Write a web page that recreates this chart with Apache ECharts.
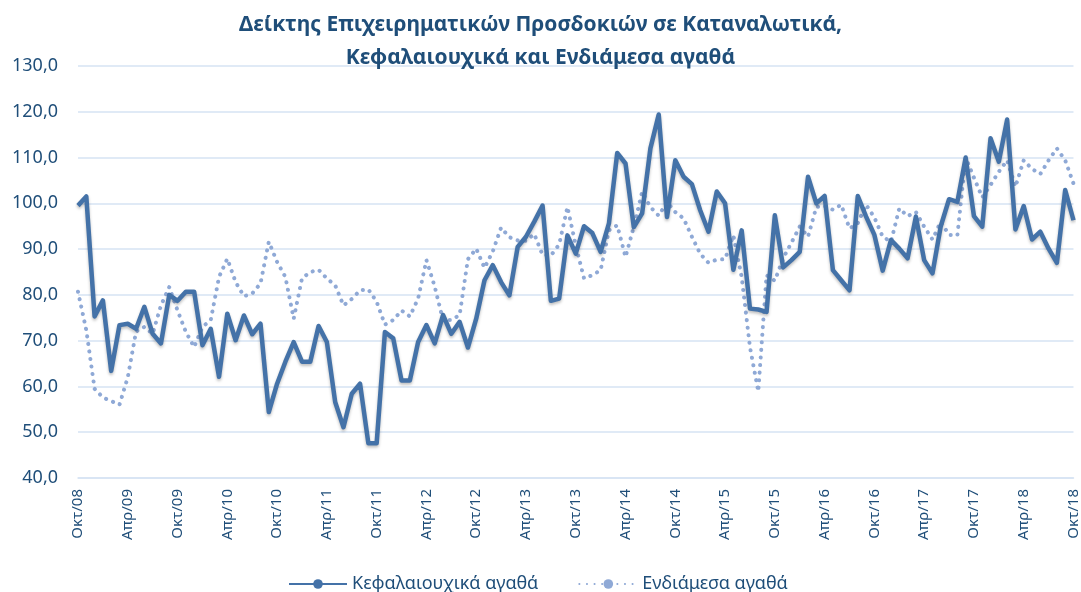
<!DOCTYPE html>
<html>
<head>
<meta charset="utf-8">
<script src="https://cdn.jsdelivr.net/npm/echarts@6/dist/echarts.min.js"></script>
<style>
html,body{margin:0;padding:0;background:#fff;}
#chart{width:1081px;height:592px;}
</style>
</head>
<body>
<div id="chart"></div>
<script>
// Month abbreviations and years used to build the monthly categories (Oct 2008 - Oct 2018)
const monthNames = ['Ιαν','Φεβ','Μαρ','Απρ','Μαϊ','Ιουν','Ιουλ','Αυγ','Σεπ','Οκτ','Νοε','Δεκ'];
const startYear = 2008, startMonth = 9, monthCount = 121;

// Κεφαλαιουχικά αγαθά (capital goods)
const capitalGoods = [
  99.5,101.5,75.3,78.8,63.4,73.4,73.7,72.6,77.4,71.5,69.4,80.0,
  78.7,80.7,80.7,69.0,72.6,62.1,75.9,70.1,75.5,71.4,73.7,54.4,
  60.6,65.4,69.7,65.4,65.4,73.2,69.7,56.6,51.1,58.4,60.6,47.6,
  47.6,71.9,70.5,61.3,61.3,69.7,73.4,69.4,75.6,71.5,74.1,68.5,
  74.8,83.2,86.5,82.8,79.9,90.5,92.7,96.0,99.5,78.7,79.2,93.0,
  89.0,95.0,93.5,89.4,95.6,111.0,108.7,94.8,97.8,112.0,119.4,97.0,
  109.4,105.8,104.2,98.5,93.8,102.6,100.0,85.5,94.1,77.0,76.8,76.3,
  97.4,86.0,87.6,89.4,105.8,100.0,101.6,85.4,83.2,81.0,101.6,97.1,
  93.1,85.3,92.0,90.1,88.0,97.1,87.6,84.7,95.0,100.9,100.3,110.0,
  97.2,94.9,114.2,109.1,118.3,94.3,99.4,92.1,93.8,90.1,87.0,102.9,
  96.3
];

// Ενδιάμεσα αγαθά (intermediate goods)
const intermediateGoods = [
  80.7,72.3,59.5,57.6,56.8,56.0,62.0,72.0,73.0,71.5,77.7,81.7,
  76.6,71.9,68.6,73.0,74.5,83.9,87.9,82.8,79.7,80.3,82.5,91.6,
  87.2,83.9,74.8,83.6,85.0,85.5,83.6,82.1,77.7,79.1,81.0,81.2,
  78.5,73.5,74.5,76.6,75.3,79.2,87.6,81.8,74.5,74.5,75.6,87.8,
  90.1,85.9,89.5,94.7,92.6,91.9,91.8,93.3,88.7,88.6,91.0,99.2,
  90.8,83.6,84.3,85.4,94.1,95.2,88.3,94.9,102.5,99.2,97.3,100.3,
  98.1,96.7,92.7,89.0,87.0,87.7,87.8,93.0,83.9,68.6,58.9,84.3,
  83.1,88.0,91.4,94.9,92.7,99.2,99.4,98.6,99.7,94.5,95.7,99.7,
  96.9,92.7,91.6,98.9,97.2,98.1,94.9,92.1,96.0,93.1,93.0,110.0,
  105.6,101.3,104.0,106.9,109.4,103.6,109.4,107.5,106.4,109.4,112.0,109.4,
  104.3
];

const seriesNames = ['Κεφαλαιουχικά αγαθά', 'Ενδιάμεσα αγαθά'];
const titleLines = ['Δείκτης Επιχειρηματικών Προσδοκιών σε Καταναλωτικά,', 'Κεφαλαιουχικά και Ενδιάμεσα αγαθά'];

const categories = [];
for (let k = 0; k < monthCount; k++) {
  const m = (startMonth + k) % 12;
  const y = startYear + Math.floor((startMonth + k) / 12);
  categories.push(monthNames[m] + '/' + String(y).slice(2));
}

const navy = '#1F4E79';
const font = 'Noto Sans';
const chart = echarts.init(document.getElementById('chart'), null, {renderer: 'canvas'});
chart.setOption({
  animation: false,
  backgroundColor: '#ffffff',
  title: {
    text: titleLines.join('\n'),
    left: 'center',
    top: 4,
    textStyle: {fontFamily: font, fontSize: 21, fontWeight: 'bold', color: navy, lineHeight: 33}
  },
  grid: {left: 78, right: 3, top: 66, bottom: 114, containLabel: false},
  legend: {
    left: 283, top: 570,
    itemWidth: 58, itemHeight: 12, itemGap: 40,
    textStyle: {fontFamily: font, fontSize: 18, color: navy},
    data: seriesNames
  },
  xAxis: {
    type: 'category',
    data: categories,
    boundaryGap: false,
    axisLine: {show: true, lineStyle: {color: '#D6E3F3', width: 1.5}},
    axisTick: {show: false},
    axisLabel: {
      interval: 5, rotate: 90, margin: 11,
      fontFamily: font, fontSize: 15, color: navy
    },
    splitLine: {show: false}
  },
  yAxis: {
    type: 'value',
    min: 40, max: 130, interval: 10,
    axisLine: {show: false},
    axisTick: {show: false},
    axisLabel: {
      margin: 20,
      fontFamily: font, fontSize: 18, color: navy,
      formatter: v => v.toFixed(1).replace('.', ',')
    },
    splitLine: {lineStyle: {color: '#D6E3F3', width: 1.5}}
  },
  series: [
    {
      name: seriesNames[0],
      type: 'line',
      data: capitalGoods,
      symbol: 'none',
      z: 3,
      lineStyle: {color: '#4472A8', width: 4.5, join: 'round',
        shadowColor: 'rgba(0,0,0,0.25)', shadowBlur: 3, shadowOffsetY: 2},
      itemStyle: {color: '#4472A8'}
    },
    {
      name: seriesNames[1],
      type: 'line',
      data: intermediateGoods,
      symbol: 'none',
      z: 2,
      lineStyle: {color: '#8FA9D6', width: 4, type: [0.1, 7.5], cap: 'round', join: 'round'},
      itemStyle: {color: '#8FA9D6'}
    }
  ]
});
</script>
</body>
</html>
